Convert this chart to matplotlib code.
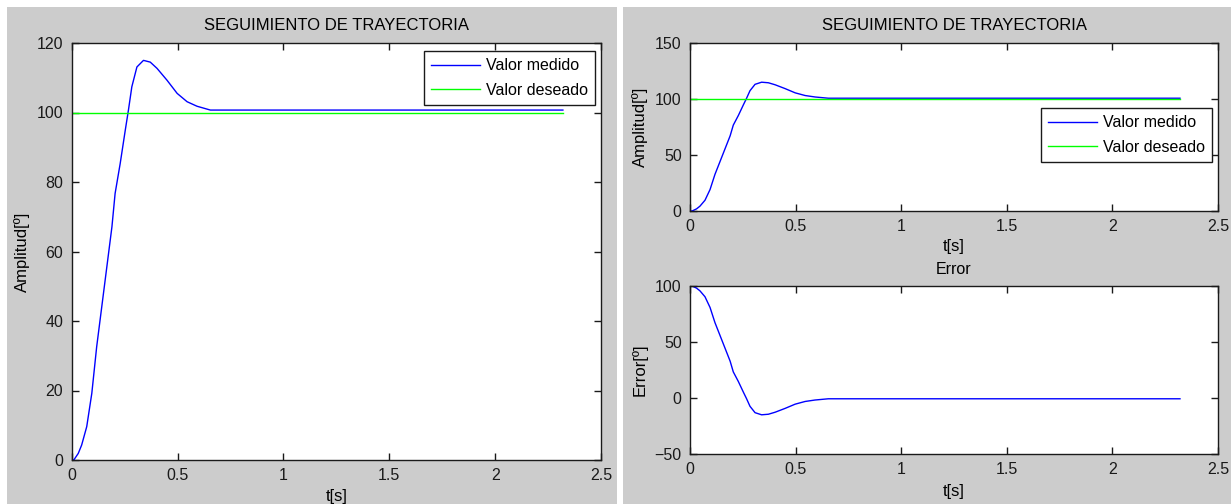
import matplotlib.pyplot as plt
from matplotlib.patches import Rectangle
import numpy as np

plt.rcParams["font.family"] = ["Liberation Sans", "DejaVu Sans"]
plt.rcParams["font.size"] = 11

# valores
t = [0.0, 0.01, 0.031, 0.047, 0.071, 0.095, 0.118, 0.142, 0.166, 0.190, 0.205,
     0.229, 0.253, 0.268, 0.284, 0.308, 0.339, 0.371, 0.403, 0.450, 0.498,
     0.545, 0.592, 0.655, 2.32]
medido = [0.0, 0.0, 1.9, 4.3, 9.6, 19.2, 32.6, 44.1, 55.6, 67.1, 76.7,
          85.3, 94.9, 100.7, 107.4, 113.1, 115.0, 114.5, 112.7, 109.3, 105.5,
          103.1, 101.8, 100.7, 100.7]
t_deseado = [0.0, 2.32]
deseado = [100.0, 100.0]

xticks = [0, 0.5, 1, 1.5, 2, 2.5]
xticklabels = ["0", "0.5", "1", "1.5", "2", "2.5"]

error = 100.0 - np.array(medido)

W, H = 1231, 504
fig = plt.figure(figsize=(W / 100, H / 100), dpi=100, facecolor="white")
fig.patches.append(Rectangle((7 / W, 0), 610 / W, 497 / H, transform=fig.transFigure,
                             facecolor="#cccccc", edgecolor="none", zorder=-10))
fig.patches.append(Rectangle((623 / W, 0), 608 / W, 497 / H, transform=fig.transFigure,
                             facecolor="#cccccc", edgecolor="none", zorder=-10))


def estilo(ax, ylim, yticks):
    ax.set_xlim(0, 2.5)
    ax.set_ylim(*ylim)
    ax.set_xticks(xticks)
    ax.set_xticklabels(xticklabels)
    ax.set_yticks(yticks)
    ax.tick_params(direction="in", length=5, width=1, top=True, right=True,
                   colors="#1a1a1a", pad=6, labelsize=11.5)
    for s in ax.spines.values():
        s.set_color("#1a1a1a")
        s.set_linewidth(1)


def pos(x0, y_top, x1, y_bot):
    return [x0 / W, (H - y_bot) / H, (x1 - x0) / W, (y_bot - y_top) / H]


def leyenda(ax, anchor):
    leg = ax.legend(loc="upper right", bbox_to_anchor=anchor, fancybox=False,
                    framealpha=1, edgecolor="#1a1a1a", handlelength=3.1,
                    handletextpad=0.35, borderaxespad=0, labelspacing=0.6,
                    borderpad=0.45, fontsize=11.5)
    leg.get_frame().set_linewidth(1)


# figura izquierda
ax1 = fig.add_axes(pos(71.7, 43, 601, 460))
ax1.plot(t, medido, color="blue", lw=1, label="Valor medido")
ax1.plot(t_deseado, deseado, color="#00ff00", lw=1, label="Valor deseado")
estilo(ax1, (0, 120), [0, 20, 40, 60, 80, 100, 120])
ax1.set_title("SEGUIMIENTO DE TRAYECTORIA", fontsize=12, pad=9)
ax1.set_xlabel("t[s]", fontsize=12, labelpad=4)
ax1.set_ylabel("Amplitud[º]", fontsize=12, labelpad=5)
leyenda(ax1, (0.989, 0.981))

# figura derecha, arriba
ax2 = fig.add_axes(pos(690, 43, 1218, 211))
ax2.plot(t, medido, color="blue", lw=1, label="Valor medido")
ax2.plot(t_deseado, deseado, color="#00ff00", lw=1, label="Valor deseado")
estilo(ax2, (0, 150), [0, 50, 100, 150])
ax2.set_title("SEGUIMIENTO DE TRAYECTORIA", fontsize=12, pad=9)
ax2.set_xlabel("t[s]", fontsize=12, labelpad=3)
ax2.set_ylabel("Amplitud[º]", fontsize=12, labelpad=5)
leyenda(ax2, (0.989, 0.613))

# figura derecha, abajo
ax3 = fig.add_axes(pos(690, 286, 1218, 454))
ax3.plot(t, error, color="blue", lw=1)
estilo(ax3, (-50, 100), [-50, 0, 50, 100])
ax3.set_title("Error", fontsize=11.5, pad=9)
ax3.set_xlabel("t[s]", fontsize=12, labelpad=5)
ax3.set_ylabel("Error[º]", fontsize=12, labelpad=5)

fig.savefig("out.png", dpi=100, facecolor="white")
